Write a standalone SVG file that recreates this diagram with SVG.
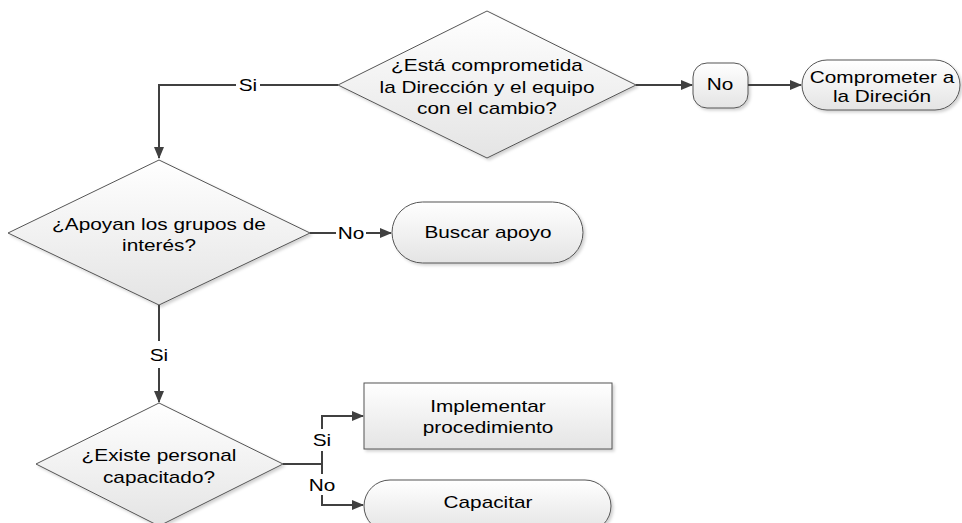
<svg xmlns="http://www.w3.org/2000/svg" width="962" height="523" viewBox="0 0 962 523">
<defs>
<linearGradient id="g" x1="0" y1="0" x2="0" y2="1">
<stop offset="0" stop-color="#ffffff"/>
<stop offset="1" stop-color="#e4e4e4"/>
</linearGradient>
<filter id="sh" x="-10%" y="-10%" width="130%" height="130%">
<feDropShadow dx="2" dy="2" stdDeviation="1.5" flood-color="#000" flood-opacity="0.18"/>
</filter>
<marker id="ar" markerWidth="12" markerHeight="10" refX="11" refY="5" orient="auto" markerUnits="userSpaceOnUse">
<path d="M0,0 L12,5 L0,10 Z" fill="#404040"/>
</marker>
</defs>
<style>
.s{fill:url(#g);stroke:#555;stroke-width:1;filter:url(#sh)}
.t{font-family:"Liberation Sans",Arial,sans-serif;font-size:16px;fill:#000;text-anchor:middle}
.c{fill:none;stroke:#404040;stroke-width:2}
</style>
<rect width="962" height="523" fill="#fff"/>
<g id="d1">
<polygon class="s" points="487,11 636,85 487,158 338,85"/>
<text class="t" transform="translate(487,71) scale(1.3,1)">¿Está comprometida</text>
<text class="t" transform="translate(487,93) scale(1.3,1)">la Dirección y el equipo</text>
<text class="t" transform="translate(487,114) scale(1.3,1)">con el cambio?</text>
</g>
<g id="no1">
<rect class="s" x="693" y="63" width="55" height="45" rx="14"/>
<text class="t" transform="translate(720,90) scale(1.3,1)">No</text>
</g>
<g id="comp">
<rect class="s" x="802" y="60" width="158" height="50" rx="25"/>
<text class="t" transform="translate(882,83) scale(1.3,1)">Comprometer a</text>
<text class="t" transform="translate(882,102) scale(1.3,1)">la Direción</text>
</g>
<g id="d2">
<polygon class="s" points="159,160 310,233 159,305 8,233"/>
<text class="t" transform="translate(159,230) scale(1.3,1)">¿Apoyan los grupos de</text>
<text class="t" transform="translate(159,251) scale(1.3,1)">interés?</text>
</g>
<g id="buscar">
<rect class="s" x="392" y="202" width="191" height="61" rx="30.5"/>
<text class="t" transform="translate(488,238) scale(1.3,1)">Buscar apoyo</text>
</g>
<g id="d3">
<polygon class="s" points="159,403 283,464 159,526 36,464"/>
<text class="t" transform="translate(159,461) scale(1.3,1)">¿Existe personal</text>
<text class="t" transform="translate(159,483) scale(1.3,1)">capacitado?</text>
</g>
<g id="impl">
<rect class="s" x="364" y="383" width="248" height="66"/>
<text class="t" transform="translate(488,412) scale(1.3,1)">Implementar</text>
<text class="t" transform="translate(488,433) scale(1.3,1)">procedimiento</text>
</g>
<g id="cap">
<rect class="s" x="364" y="480" width="247" height="52" rx="26"/>
<text class="t" transform="translate(488,508) scale(1.3,1)">Capacitar</text>
</g>
<g id="connectors">
<path class="c" d="M338,85 L260,85"/>
<path class="c" d="M236,85 L159,85 L159,158" marker-end="url(#ar)"/>
<text class="t" transform="translate(248,91) scale(1.3,1)">Si</text>
<path class="c" d="M636,85 L692,85" marker-end="url(#ar)"/>
<path class="c" d="M748,85 L801,85" marker-end="url(#ar)"/>
<path class="c" d="M310,233 L336,233"/>
<path class="c" d="M366,233 L391,233" marker-end="url(#ar)"/>
<text class="t" transform="translate(351,239) scale(1.3,1)">No</text>
<path class="c" d="M159,305 L159,341"/>
<path class="c" d="M159,368 L159,402" marker-end="url(#ar)"/>
<text class="t" transform="translate(159,361) scale(1.3,1)">Si</text>
<path class="c" d="M283,464 L322,464 L322,451"/>
<path class="c" d="M322,429 L322,416 L363,416" marker-end="url(#ar)"/>
<text class="t" transform="translate(322,446) scale(1.3,1)">Si</text>
<path class="c" d="M322,464 L322,474"/>
<path class="c" d="M322,495 L322,505 L363,505" marker-end="url(#ar)"/>
<text class="t" transform="translate(322,491) scale(1.3,1)">No</text>
</g>
</svg>
